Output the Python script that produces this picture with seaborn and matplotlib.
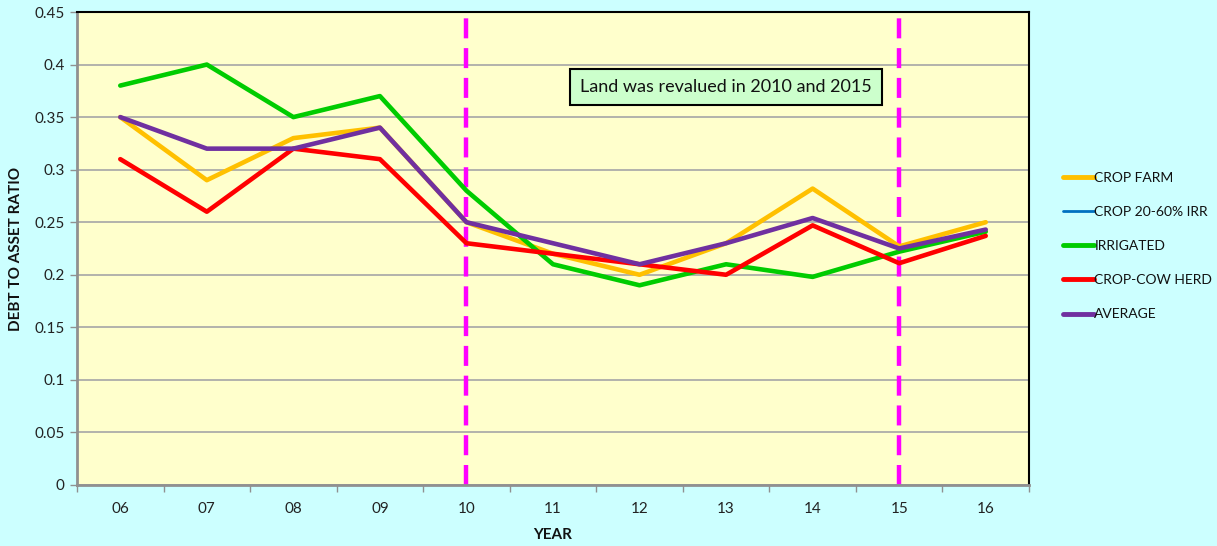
import numpy as np
import pandas as pd
import matplotlib
matplotlib.use("Agg")
import matplotlib.pyplot as plt
import seaborn as sns
from matplotlib.lines import Line2D

years = ["06", "07", "08", "09", "10", "11", "12", "13", "14", "15", "16"]
crop_farm = [0.35, 0.29, 0.33, 0.34, 0.25, 0.22, 0.20, 0.23, 0.282, 0.227, 0.25]
crop_2060_irr = [np.nan, np.nan, np.nan, np.nan, np.nan, np.nan, np.nan, np.nan, np.nan, np.nan, np.nan]
irrigated = [0.38, 0.40, 0.35, 0.37, 0.28, 0.21, 0.19, 0.21, 0.198, 0.222, 0.241]
crop_cow = [0.31, 0.26, 0.32, 0.31, 0.23, 0.22, 0.21, 0.20, 0.247, 0.211, 0.237]
average = [0.35, 0.32, 0.32, 0.34, 0.25, 0.23, 0.21, 0.23, 0.254, 0.225, 0.243]
series_names = ["CROP FARM", "CROP 20-60% IRR", "IRRIGATED", "CROP-COW HERD", "AVERAGE"]
revalued_years = ["10", "15"]
y_ticks = [0, 0.05, 0.1, 0.15, 0.2, 0.25, 0.3, 0.35, 0.4, 0.45]
y_tick_labels = ["0", "0.05", "0.1", "0.15", "0.2", "0.25", "0.3", "0.35", "0.4", "0.45"]
note_text = "Land was revalued in 2010 and 2015"

colors = ["#FFC000", "#0070C0", "#00CC00", "#FF0000", "#7030A0"]

all_vals = [crop_farm, crop_2060_irr, irrigated, crop_cow, average]
df = pd.DataFrame({
    "year": years * len(series_names),
    "value": [v for vals in all_vals for v in vals],
    "series": [n for n in series_names for _ in years],
})

sns.set_theme(style="white")
plt.rcParams["font.family"] = ["Lato", "DejaVu Sans"]

fig = plt.figure(figsize=(12.17, 5.46), dpi=100, facecolor="#CCFFFF")
ax = fig.add_axes([77 / 1217, 61 / 546, (1029 - 77) / 1217, (485 - 12) / 546])
ax.set_facecolor("#FFFFCC")

palette = dict(zip(series_names, colors))
sns.lineplot(data=df, x="year", y="value", hue="series", hue_order=series_names,
             palette=palette, sort=False, linewidth=3.3, ax=ax, legend=False,
             estimator=None)

ax.set_xlim(-0.5, len(years) - 0.5)
ax.set_ylim(0, 0.45)
ax.set_yticks(y_ticks)
ax.set_yticklabels(y_tick_labels)
ax.set_xticks(range(len(years)))
ax.set_xticklabels(years)
ax.set_xticks(np.arange(-0.5, len(years), 1.0), minor=True)
ax.tick_params(axis="x", which="major", length=0, pad=12, labelsize=11, colors="#222222")
ax.tick_params(axis="x", which="minor", length=5, width=1, color="#909090", bottom=True)
ax.tick_params(axis="y", which="major", length=5, width=1, color="#909090", left=True,
               labelsize=11, labelcolor="#222222", pad=4)

ax.yaxis.grid(True, color="#A6A6A6", linewidth=1.2)
ax.set_axisbelow(True)

for s in ["left", "bottom"]:
    ax.spines[s].set_color("#909090")
    ax.spines[s].set_linewidth(2)
for s in ["top", "right"]:
    ax.spines[s].set_color("#000000")
    ax.spines[s].set_linewidth(1.5)

for yr in revalued_years:
    ax.axvline(years.index(yr), color="#FF00FF", linewidth=3.2,
               linestyle=(0, (4.5, 2.2)), zorder=1.5)

ax.set_xlabel("YEAR", fontsize=11, fontweight="bold", labelpad=9, color="#111111")
ax.set_ylabel("DEBT TO ASSET RATIO", fontsize=11, fontweight="bold", labelpad=8, color="#111111")

ax.text((580 - 77) / 952, 0.842, note_text, transform=ax.transAxes, fontsize=13, color="#111111",
        va="center", ha="left",
        bbox=dict(boxstyle="square,pad=0.55", facecolor="#CCFFCC", edgecolor="black", linewidth=1.5))

handles = [Line2D([0], [0], color=c, linewidth=(2 if n == "CROP 20-60% IRR" else 3.5))
           for n, c in zip(series_names, colors)]
leg = fig.legend(handles, series_names, loc="center left", bbox_to_anchor=(1050 / 1217, 1 - 246 / 546),
                 frameon=False, fontsize=10, handlelength=2.3, handletextpad=0.0,
                 labelspacing=1.6)
for t in leg.get_texts():
    t.set_color("#111111")

fig.savefig("out.png", dpi=100, facecolor=fig.get_facecolor())
